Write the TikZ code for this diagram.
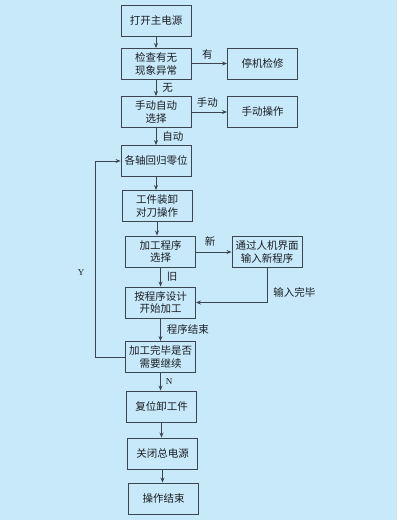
\documentclass[tikz,border=0pt]{standalone}
\usepackage{fontspec}
\setmainfont{Liberation Serif}
\newfontfamily\cjk{Noto Sans CJK SC}
\usepackage{tikz}
\usetikzlibrary{arrows.meta, positioning, calc}
\definecolor{bgblue}{RGB}{200,233,250}
\definecolor{myframe}{RGB}{60,70,80}
\definecolor{mytext}{RGB}{25,30,35}
\tikzset{
  stepbox/.style={rectangle, draw=myframe, fill=bgblue,
    minimum width=70pt, minimum height=31pt, align=center,
    font=\cjk\fontsize{10.5}{12.5}\selectfont, text=mytext, line width=0.9pt, inner sep=1pt},
  arrow/.style={-{Stealth[length=5pt,width=4pt]}, line width=0.9pt, color=myframe},
  line/.style={line width=0.9pt, color=myframe},
  lbl/.style={font=\cjk\fontsize{10.5}{12.5}\selectfont, text=mytext, inner sep=0pt},
  latinlbl/.style={font=\fontsize{9}{10}\selectfont, text=mytext, inner sep=0pt}
}
\begin{document}
\begin{tikzpicture}[x=1pt, y=-1pt]
  % background
  \fill[bgblue] (0,0) rectangle (397,520);
  \useasboundingbox (0,0) rectangle (397,520);

  % main column
  \node[stepbox] (power) at (156,20.5) {打开主电源};
  \node[stepbox] (check) at (156,64) {检查有无\\现象异常};
  \node[stepbox] (mode) at (156,112) {手动自动\\选择};
  \node[stepbox] (home) at (156,161) {各轴回归零位};
  \node[stepbox] (load) at (157,206) {工件装卸\\对刀操作};
  \node[stepbox] (prog) at (160.5,251.5) {加工程序\\选择};
  \node[stepbox] (run) at (160.5,302.5) {按程序设计\\开始加工};
  \node[stepbox] (done) at (160.5,357) {加工完毕是否\\需要继续};
  \node[stepbox] (reset) at (161.5,406.5) {复位卸工件};
  \node[stepbox] (off) at (162.5,453.5) {关闭总电源};
  \node[stepbox] (finish) at (163.5,498.5) {操作结束};

  % side column
  \node[stepbox] (repair) at (262.5,63.5) {停机检修};
  \node[stepbox] (manual) at (262.5,112) {手动操作};
  \node[stepbox] (newprog) at (267,252) {通过人机界面\\输入新程序};

  % vertical flow
  \draw[arrow] (power.south) -- (power.south |- check.north);
  \draw[arrow] (check.south) -- (check.south |- mode.north) node[lbl, midway, right=6pt] {无};
  \draw[arrow] (mode.south) -- (mode.south |- home.north) node[lbl, midway, right=6pt] {自动};
  \draw[arrow] (home.south) -- (home.south |- load.north);
  \draw[arrow] (load.south) -- (load.south |- prog.north);
  \draw[arrow] (prog.south) -- (prog.south |- run.north) node[lbl, midway, right=6pt] {旧};
  \draw[arrow] (run.south) -- (run.south |- done.north) node[lbl, midway, right=6pt] {程序结束};
  \draw[arrow] (done.south) -- (done.south |- reset.north) node[latinlbl, midway, right=5pt] {N};
  \draw[arrow] (reset.south) -- (reset.south |- off.north);
  \draw[arrow] (off.south) -- (off.south |- finish.north);

  % side branches
  \draw[arrow] (check.east |- repair.west) -- (repair.west) node[lbl, pos=0.45, above=4pt] {有};
  \draw[arrow] (mode.east) -- (manual.west) node[lbl, pos=0.45, above=4pt] {手动};
  \draw[arrow] (prog.east |- newprog.west) -- (newprog.west) node[lbl, pos=0.4, above=5pt] {新};
  \draw[arrow] (newprog.south) |- (run.east) node[lbl, pos=0.35, right=6pt] {输入完毕};

  % loop back
  \coordinate (loopbot) at (95,357);
  \coordinate (looptop) at (95,161);
  \draw[arrow] (done.west) -- (loopbot) -- (looptop) -- (home.west);
  \node[latinlbl] (yes) at (81,273) {Y};
\end{tikzpicture}
\end{document}
